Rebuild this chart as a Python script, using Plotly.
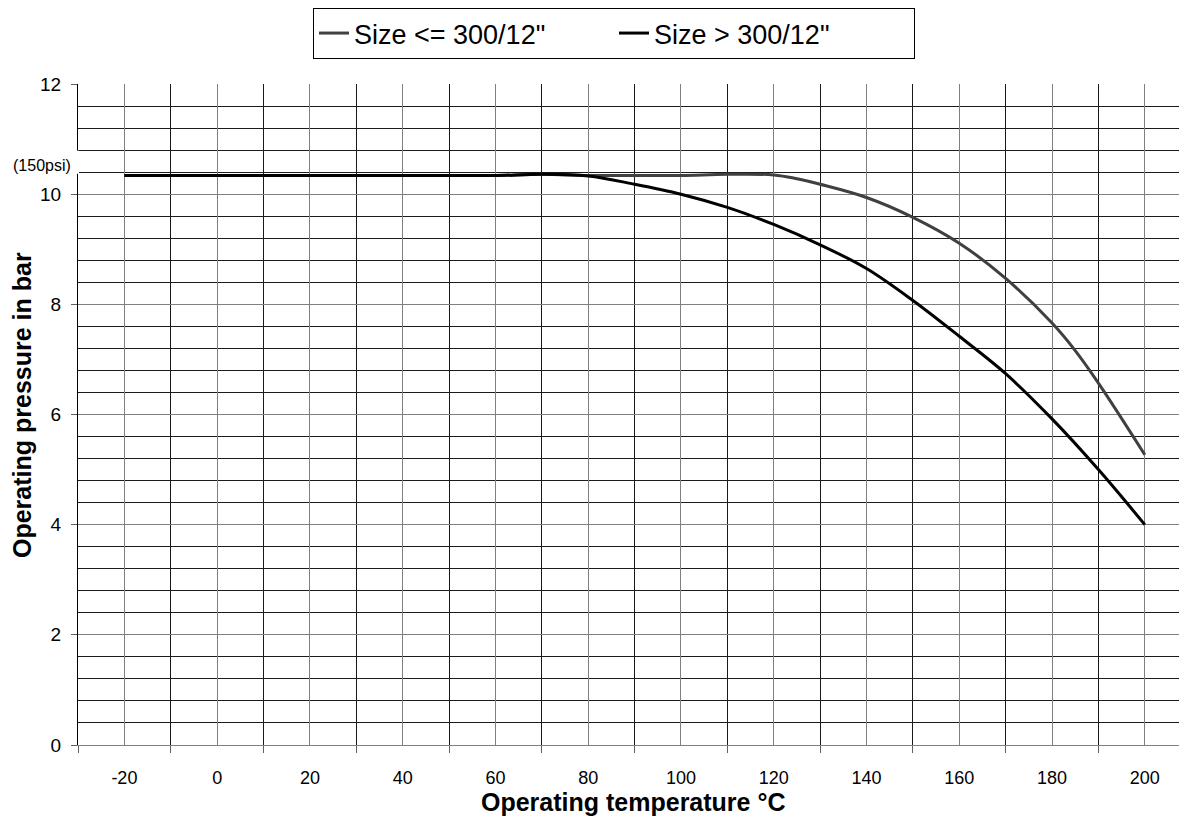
import plotly.graph_objects as go

# Data
temps_small = [-20, -10, 0, 10, 20, 30, 40, 50, 60, 70, 80, 90, 100, 110, 120, 125, 130, 140, 150, 160, 170, 180, 185, 190, 200]
press_small = [10.34, 10.34, 10.34, 10.34, 10.34, 10.34, 10.34, 10.34, 10.34, 10.36, 10.34, 10.34, 10.34, 10.36, 10.35, 10.28, 10.18, 9.94, 9.58, 9.11, 8.47, 7.66, 7.16, 6.57, 5.27]

temps_large = [-20, -10, 0, 10, 20, 30, 40, 50, 60, 70, 80, 90, 100, 110, 120, 130, 140, 150, 160, 170, 180, 190, 200]
press_large = [10.34, 10.34, 10.34, 10.34, 10.34, 10.34, 10.34, 10.34, 10.34, 10.36, 10.33, 10.18, 10.0, 9.76, 9.45, 9.08, 8.65, 8.07, 7.42, 6.74, 5.92, 5.0, 4.0]

x_tick_vals = list(range(-20, 201, 20))
x_tick_text = [str(v) for v in x_tick_vals]
y_tick_vals = [0, 2, 4, 6, 8, 10, 12]

series_names = ['Size <= 300/12"', 'Size > 300/12"']

FONT = "Liberation Sans, Arial, sans-serif"

# the page body adds an 8px offset, so the figure is laid out 8px smaller
OFF = 8
PLOT_L, PLOT_T, PLOT_B = 78, 84, 745
FIG_W, FIG_H = 1187 - OFF, 838 - OFF
PLOT_H = PLOT_B - PLOT_T
PLOT_W = FIG_W - (PLOT_L - OFF)


def px(xw):
    return (xw - PLOT_L) / PLOT_W


def py(yw):
    return (PLOT_B - yw) / PLOT_H


fig = go.Figure()
fig.add_trace(go.Scatter(x=temps_small, y=press_small, mode="lines", name=series_names[0],
                         line=dict(color="#404040", width=3, shape="spline", smoothing=1.0)))
fig.add_trace(go.Scatter(x=temps_large, y=press_large, mode="lines", name=series_names[1],
                         line=dict(color="#000000", width=3, shape="spline", smoothing=1.0)))

fig.update_layout(
    width=FIG_W, height=FIG_H,
    margin=dict(l=PLOT_L - OFF, r=0, t=PLOT_T - OFF, b=FIG_H - (PLOT_B - OFF), autoexpand=False),
    paper_bgcolor="white", plot_bgcolor="white",
    font=dict(family=FONT, color="black", size=18),
    showlegend=True,
    legend=dict(orientation="h", x=px(313), xanchor="left", y=py(OFF), yanchor="top",
                bordercolor="black", borderwidth=1, bgcolor="white",
                font=dict(size=27, family=FONT), tracegroupgap=0, itemwidth=30, entrywidth=255),
    xaxis=dict(range=[-30, 209.1], tickmode="array", tickvals=x_tick_vals, ticktext=x_tick_text,
               ticks="", showgrid=True, gridcolor="#808080", gridwidth=1,
               showline=True, linecolor="#808080", linewidth=1, zeroline=False,
               automargin=False, ticklabelstandoff=16, tickfont=dict(size=18),
               minor=dict(tickmode="array", tickvals=list(range(-30, 200, 20)), ticks="outside",
                          ticklen=7, tickcolor="#606060", showgrid=True, gridcolor="#1a1a1a", gridwidth=1)),
    yaxis=dict(range=[0, 12], tickmode="array", tickvals=y_tick_vals, ticks="outside", ticklen=6,
               tickcolor="#606060", showgrid=True, gridcolor="#808080", gridwidth=1,
               showline=True, linecolor="black", linewidth=1, zeroline=False,
               automargin=False, ticklabelstandoff=6, tickfont=dict(size=19),
               minor=dict(dtick=0.4, tick0=0, showgrid=True, gridcolor="#1a1a1a", gridwidth=1, ticks="")),
    shapes=[
        # gap in the value axis line beside the (150psi) label
        dict(type="rect", xref="paper", yref="y", x0=px(75), x1=px(79), y0=10.37, y1=10.79,
             fillcolor="white", line=dict(width=0), layer="above"),
    ],
    annotations=[
        dict(text="<b>Operating temperature °C</b>", xref="paper", yref="paper",
             x=px(633), y=py(802), xanchor="center", yanchor="middle",
             showarrow=False, font=dict(size=25, family=FONT)),
        dict(text="<b>Operating pressure in bar</b>", xref="paper", yref="paper",
             x=px(22), y=py(405), xanchor="center", yanchor="middle",
             textangle=-90, showarrow=False, font=dict(size=25, family=FONT)),
        dict(text="(150psi)", xref="paper", yref="paper",
             x=px(73), y=py(165), xanchor="right", yanchor="middle",
             showarrow=False, font=dict(size=16, family=FONT)),
    ],
)

fig.write_html("out.html")
